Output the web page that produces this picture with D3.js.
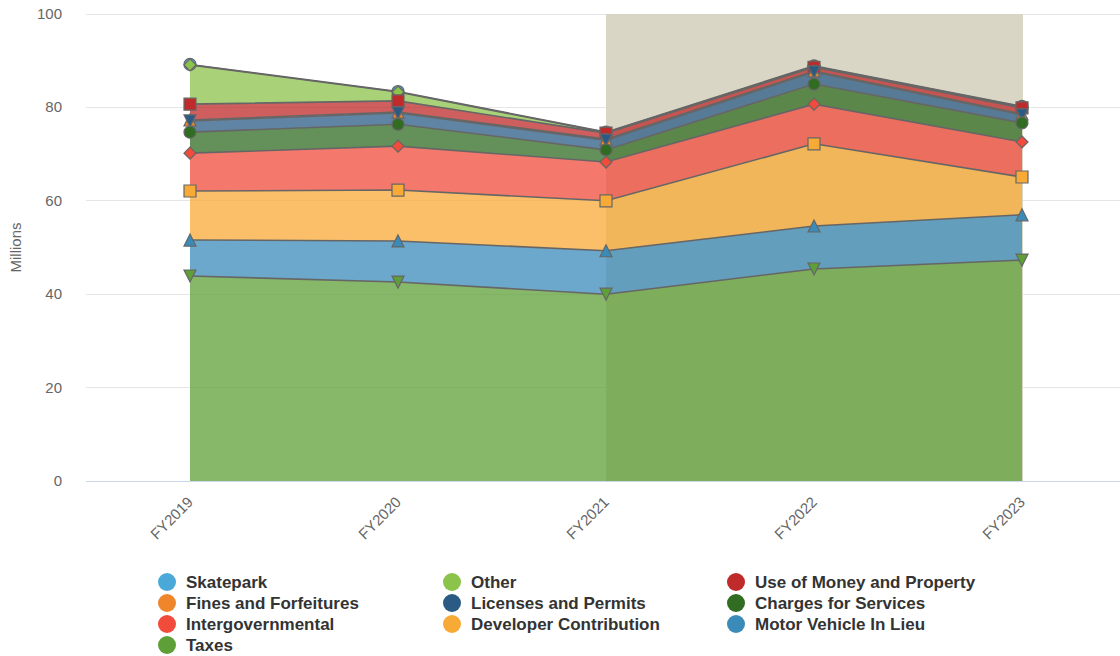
<!DOCTYPE html>
<html>
<head>
<meta charset="utf-8">
<script src="https://cdn.jsdelivr.net/npm/d3@7"></script>
<style>
  html, body { margin: 0; padding: 0; background: #fff; overflow: hidden; }
  svg { display: block; font-family: "Liberation Sans", Arial, Helvetica, sans-serif; }
</style>
</head>
<body>
<svg id="chart" width="1120" height="656"></svg>
<script>
// ---- Data (millions) ----
const categories = ["FY2019", "FY2020", "FY2021", "FY2022", "FY2023"];
const seriesNames = ["Skatepark", "Other", "Use of Money and Property", "Fines and Forfeitures",
  "Licenses and Permits", "Charges for Services", "Intergovernmental",
  "Developer Contribution", "Motor Vehicle In Lieu", "Taxes"];
const skatepark        = [0.1, 0.1, 0.1, 0.1, 0.1];
const other            = [8.4, 1.9, 0.1, 0.2, 0.2];
const useOfMoney       = [3.4, 2.4, 1.3, 0.8, 1.3];
const fines            = [0.2, 0.2, 0.2, 0.2, 0.2];
const licenses         = [2.4, 2.4, 2.1, 2.6, 1.7];
const charges          = [4.5, 4.7, 2.6, 4.3, 4.1];
const intergovernmental= [8.1, 9.4, 8.3, 8.5, 7.5];
const developer        = [10.5, 10.9, 10.7, 17.6, 8.1];
const motorVehicle     = [7.7, 8.8, 9.3, 9.2, 9.7];
const taxes            = [43.9, 42.6, 40.0, 45.4, 47.3];
const yTicks = [0, 20, 40, 60, 80, 100];
const bandFrom = "FY2021", bandTo = "FY2023";

const seriesValues = [skatepark, other, useOfMoney, fines, licenses, charges,
  intergovernmental, developer, motorVehicle, taxes];
const colors = ["#4ba9d9", "#8cc34b", "#bf2a2a", "#f0862c", "#2b5b85", "#306c21",
  "#f14b3b", "#f8aa36", "#3b8bb9", "#5f9f37"];
const symbols = [d3.symbolCircle, "diamond", d3.symbolSquare, "triangle", "triangleDown",
  d3.symbolCircle, "diamond", d3.symbolSquare, "triangle", "triangleDown"];

// ---- Layout ----
const svg = d3.select("#chart");
const plot = { left: 86, right: 1126, top: 14, bottom: 481 };

const x = d3.scalePoint().domain(categories).range([plot.left, plot.right]).padding(0.5);
const y = d3.scaleLinear().domain([0, 100]).range([plot.bottom, plot.top]);

// stack: bottom = last series (Taxes)
const table = categories.map((c, i) => {
  const row = { cat: c };
  seriesNames.forEach((n, k) => row[n] = seriesValues[k][i]);
  return row;
});
const stackKeys = seriesNames.slice().reverse();
const stacked = d3.stack().keys(stackKeys)(table);
const stackByName = {};
stacked.forEach(s => stackByName[s.key] = s);

// grid lines
svg.append("g").selectAll("line").data(yTicks.filter(t => t > 0)).join("line")
  .attr("x1", plot.left).attr("x2", 1120)
  .attr("y1", d => y(d)).attr("y2", d => y(d))
  .attr("stroke", "#e6e6e6").attr("stroke-width", 1).attr("shape-rendering", "crispEdges");

// plot band
svg.append("rect")
  .attr("x", x(bandFrom)).attr("width", x(bandTo) - x(bandFrom) + 1)
  .attr("y", plot.top).attr("height", plot.bottom - plot.top)
  .attr("fill", "#d9d6c6");

// areas
const area = d3.area().x(d => x(d.data.cat)).y0(d => y(d[0])).y1(d => y(d[1]));
const line = d3.line().x(d => x(d.data.cat)).y(d => y(d[1]));

const areaG = svg.append("g");
seriesNames.forEach((n, k) => {
  const s = stackByName[n];
  areaG.append("path").datum(s).attr("d", area)
    .attr("fill", colors[k]).attr("fill-opacity", 0.75);
});
seriesNames.forEach((n, k) => {
  const s = stackByName[n];
  areaG.append("path").datum(s).attr("d", line)
    .attr("fill", "none").attr("stroke", "#666666").attr("stroke-width", 1.6);
});

// x axis line
svg.append("line").attr("x1", plot.left).attr("x2", 1120)
  .attr("y1", plot.bottom + 0.5).attr("y2", plot.bottom + 0.5)
  .attr("stroke", "#ccd6eb").attr("stroke-width", 1);

// markers
function symPath(sym, r) {
  if (sym === "diamond") return `M0,${-r}L${r},0L0,${r}L${-r},0Z`;
  if (sym === "triangle") return `M0,${-r}L${r},${r}L${-r},${r}Z`;
  if (sym === "triangleDown") return `M${-r},${-r}L${r},${-r}L0,${r}Z`;
  if (sym === d3.symbolSquare) return `M${-r},${-r}H${r}V${r}H${-r}Z`;
  return d3.symbol(sym, Math.PI * r * r)();
}
const markG = svg.append("g");
seriesNames.forEach((n, k) => {
  const s = stackByName[n];
  markG.selectAll(null).data(s).join("path")
    .attr("transform", d => `translate(${x(d.data.cat)},${y(d[1])})`)
    .attr("d", symPath(symbols[k], 6))
    .attr("fill", colors[k]).attr("stroke", "#666666").attr("stroke-width", 1.2);
});

// y axis labels
svg.append("g").selectAll("text").data(yTicks).join("text")
  .attr("x", 62).attr("y", d => y(d) + 5)
  .attr("text-anchor", "end").attr("fill", "#666666").attr("font-size", 15)
  .text(d => d);
svg.append("text")
  .attr("transform", `translate(21,${(plot.top + plot.bottom) / 2}) rotate(-90)`)
  .attr("text-anchor", "middle").attr("fill", "#666666").attr("font-size", 15)
  .text("Millions");

// x axis labels
svg.append("g").selectAll("text").data(categories).join("text")
  .attr("transform", d => `translate(${x(d) + 4},${plot.bottom + 22}) rotate(-45)`)
  .attr("text-anchor", "end").attr("fill", "#666666").attr("font-size", 15)
  .text(d => d);

// legend (3 columns, row-wise)
const legendCols = [167, 452, 736];
const legendRows = [582, 603, 624, 645];
const lg = svg.append("g");
seriesNames.forEach((n, k) => {
  const cx = legendCols[k % 3], cy = legendRows[Math.floor(k / 3)];
  lg.append("circle").attr("cx", cx).attr("cy", cy).attr("r", 9).attr("fill", colors[k]);
  lg.append("text").attr("x", cx + 19).attr("y", cy + 6)
    .attr("fill", "#333333").attr("font-size", 17).attr("font-weight", "bold")
    .text(n);
});
</script>
</body>
</html>
